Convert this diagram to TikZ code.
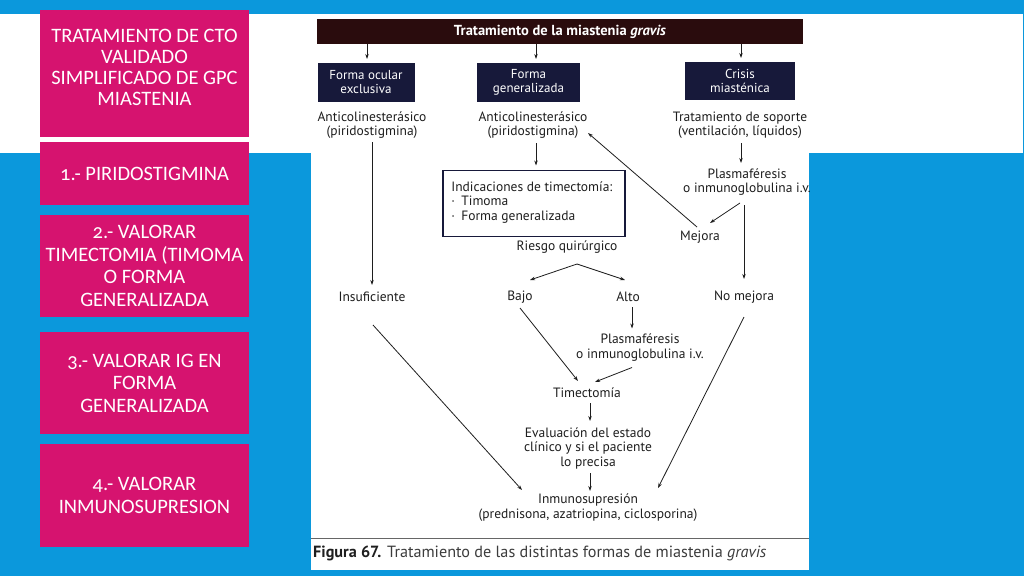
\documentclass[tikz,border=0pt]{standalone}
\usepackage{fontspec}
\setmainfont{PT Sans}
\newfontfamily\slidefont[Numbers=OldStyle]{Carlito}
\usetikzlibrary{arrows.meta,calc}
\definecolor{bgblue}{HTML}{0B98DC}
\definecolor{pinkc}{HTML}{D6136F}
\definecolor{titlec}{HTML}{2A0C0D}
\definecolor{navyc}{HTML}{17193A}
\definecolor{inkc}{HTML}{1E1E1E}
\definecolor{capgray}{HTML}{3C3C3C}
\begin{document}
\begin{tikzpicture}[x=1pt,y=-1pt,
  pinkbox/.style={fill=pinkc,text=white,minimum width=209pt,align=center,inner sep=0pt,
    font=\slidefont\fontsize{20.5}{22.5}\selectfont},
  pinktext/.style={text=white,align=center,inner sep=0pt,
    font=\slidefont\fontsize{20.5}{21}\selectfont},
  flow/.style={text=inkc,align=center,inner sep=1pt,font=\fontsize{13.5}{14.5}\selectfont},
  darkbox/.style={fill=navyc,text=white,align=center,inner sep=0pt,minimum height=39pt,
    font=\fontsize{13}{14}\selectfont},
  arr/.style={draw=inkc,line width=0.8pt,-{Stealth[length=5pt,width=3.4pt]}}]
\useasboundingbox (0,0) rectangle (1024,576);
% background
\fill[bgblue] (0,0) rectangle (1024,576);
\fill[white] (0,14) rectangle (1023,153);
\fill[white] (311,14) rectangle (809,570);

% left pink boxes
\node[pinkbox,minimum height=127pt] (p0) at (144.5,73.5) {};
\node[pinktext] (p0txt) at (144.5,67.5) {TRATAMIENTO DE CTO\\VALIDADO\\SIMPLIFICADO DE GPC\\MIASTENIA};
\node[pinkbox,minimum height=63pt] (p1) at (144.5,173.5) {1.- PIRIDOSTIGMINA};
\node[pinkbox,minimum height=102pt] (p2) at (144.5,266) {2.- VALORAR\\TIMECTOMIA (TIMOMA\\O FORMA\\GENERALIZADA};
\node[pinkbox,minimum height=102pt] (p3) at (144.5,383) {3.- VALORAR IG EN\\FORMA\\GENERALIZADA};
\node[pinkbox,minimum height=103pt] (p4) at (144.5,495.5) {4.- VALORAR\\INMUNOSUPRESION};

% flowchart
\node[fill=titlec,text=white,minimum width=486pt,minimum height=25pt,inner sep=0pt,
  font=\bfseries\fontsize{14.5}{16}\selectfont] (title) at (560,31.5) {Tratamiento de la miastenia \textit{gravis}};
\node[darkbox,minimum width=97pt] (oc) at (366,82.5) {Forma ocular\\exclusiva};
\node[darkbox,minimum width=103pt] (gen) at (528.5,82.5) {Forma\\generalizada};
\node[darkbox,minimum width=110pt,minimum height=38pt] (cri) at (740,81) {Crisis\\miasténica};

\node[flow] (anti1) at (372,125) {Anticolinesterásico\\(piridostigmina)};
\node[flow] (anti2) at (533,125) {Anticolinesterásico\\(piridostigmina)};
\node[flow] (sop) at (740,125) {Tratamiento de soporte\\(ventilación, líquidos)};

\node[draw=navyc,line width=1.6pt,minimum width=182pt,minimum height=66pt,inner sep=0pt] (ind) at (534,203.5) {};
\node[anchor=west,align=left,inner sep=0pt,text=inkc,font=\fontsize{13.5}{14.5}\selectfont] (indtxt) at ($(ind.west)+(9,-1)$)
  {Indicaciones de timectomía:\\\makebox[10pt][l]{·}Timoma\\\makebox[10pt][l]{·}Forma generalizada};

\node[flow] (riesgo) at (567,247) {Riesgo quirúrgico};
\node[flow] (insuf) at (372,297) {Insuficiente};
\node[flow] (bajo) at (520,297) {Bajo};
\node[flow] (alto) at (628,297) {Alto};
\node[flow] (nomej) at (744,297) {No mejora};
\node[flow] (plasR) at (747,182) {Plasmaféresis\\o inmunoglobulina i.v.};
\node[flow] (mejora) at (700,237) {Mejora};
\node[flow] (plasM) at (640,347.5) {Plasmaféresis\\o inmunoglobulina i.v.};
\node[flow] (timec) at (587,393) {Timectomía};
\node[flow] (eval) at (588,448) {Evaluación del estado\\clínico y si el paciente\\lo precisa};
\node[flow] (inmu) at (588,507.5) {Inmunosupresión\\(prednisona, azatriopina, ciclosporina)};
\coordinate (fork) at ($(riesgo)+(10,17)$);

% connectors
\draw[arr] ($(title)+(-193,12.5)$) -- ($(oc)+(1,-23.5)$);
\draw[arr] ($(title)+(-24,12.5)$) -- ($(gen)+(7.5,-23.5)$);
\draw[arr] ($(title)+(181,12.5)$) -- ($(cri)+(1,-23)$);
\draw[arr] ($(anti1)+(0,17)$) -- ($(insuf)+(0,-12)$);
\draw[arr] ($(anti2)+(3,18)$) -- ($(ind)+(2,-38)$);
\draw[arr] ($(sop)+(1,18)$) -- ($(plasR)+(-6,-19)$);
\draw[arr] ($(plasR)+(-7,21)$) -- ($(mejora)+(10,-14)$);
\draw[arr] ($(plasR)+(-3,23)$) -- ($(nomej)+(0,-18)$);
\draw[arr] ($(mejora)+(-3,-10)$) -- ($(anti2)+(55,8)$);
\draw[arr] (fork) -- ($(bajo)+(10,-17)$);
\draw[arr] (fork) -- ($(alto)+(-3,-17)$);
\draw[arr] ($(alto)+(4,10)$) -- ($(plasM)+(-8,-19)$);
\draw[arr] ($(plasM)+(-8,20)$) -- ($(timec)+(8,-11)$);
\draw[arr] ($(bajo)+(0,11)$) -- ($(timec)+(-9,-12)$);
\draw[arr] ($(timec)+(3,10)$) -- ($(eval)+(2,-27)$);
\draw[arr] ($(eval)+(2,25)$) -- ($(inmu)+(2,-16.5)$);
\draw[arr] ($(insuf)+(1,28)$) -- ($(inmu)+(-66,-17.5)$);
\draw[arr] ($(nomej)+(0,20)$) -- ($(inmu)+(70,-19.5)$);

% caption
\draw[draw=gray!80!black,line width=1pt] (311,538) -- (809,538);
\node[anchor=west,inner sep=0pt,text=capgray,font=\fontsize{16.2}{18}\selectfont] (cap) at (313,553)
  {\textbf{\color{inkc}Figura 67.} Tratamiento de las distintas formas de miastenia \textit{gravis}};
\end{tikzpicture}
\end{document}
